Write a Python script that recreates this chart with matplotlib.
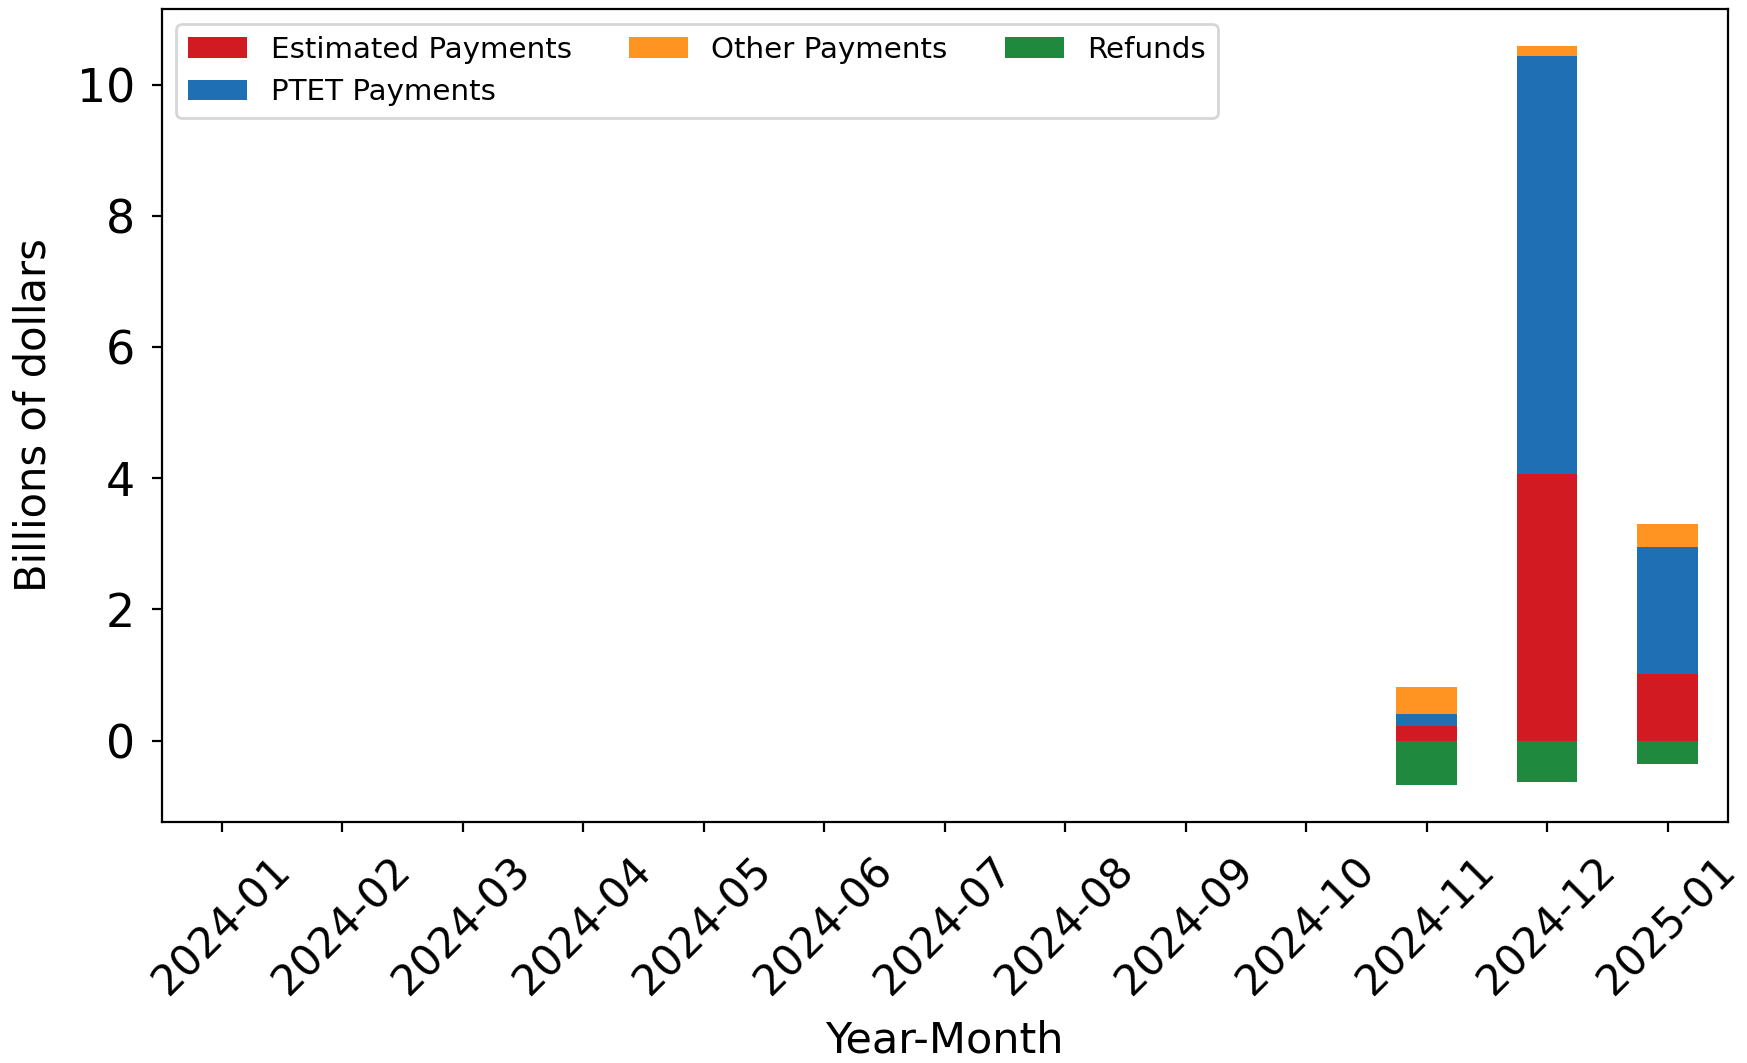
import numpy as np
import matplotlib
matplotlib.use("Agg")
import matplotlib.pyplot as plt

# Monthly values, billions of dollars
months = ["2024-01", "2024-02", "2024-03", "2024-04", "2024-05", "2024-06",
          "2024-07", "2024-08", "2024-09", "2024-10", "2024-11", "2024-12", "2025-01"]
estimated = [0, 0, 0, 0, 0, 0, 0, 0, 0, 0, 0.22, 4.07, 1.01]
ptet = [0, 0, 0, 0, 0, 0, 0, 0, 0, 0, 0.19, 6.38, 1.95]
other = [0, 0, 0, 0, 0, 0, 0, 0, 0, 0, 0.41, 0.15, 0.34]
refunds = [0, 0, 0, 0, 0, 0, 0, 0, 0, 0, -0.68, -0.64, -0.36]

est = np.array(estimated)
pt = np.array(ptet)
x = np.arange(len(months))
width = 0.5

fig = plt.figure(figsize=(8.735, 5.315), dpi=200)
ax = fig.add_axes([0.0925, 0.2267, 0.8965, 0.7648])

ax.bar(x, est, width, color="#d11a22", label="Estimated Payments")
ax.bar(x, pt, width, bottom=est, color="#1f6fb5", label="PTET Payments")
ax.bar(x, other, width, bottom=est + pt, color="#ff9422", label="Other Payments")
ax.bar(x, refunds, width, color="#1f8a3e", label="Refunds")

ax.set_xlim(-0.5, len(months) - 0.5)
ax.set_xticks(x)
ax.set_xticklabels(months, rotation=45, ha="center", fontsize=15.2)
ax.tick_params(axis="x", pad=6)
ax.tick_params(axis="y", labelsize=16.5, pad=6)
ax.set_yticks([0, 2, 4, 6, 8, 10])
ax.set_xlabel("Year-Month", fontsize=15.5, labelpad=6)
ax.set_ylabel("Billions of dollars", fontsize=15, labelpad=8)
ax.legend(ncol=3, loc="upper left", fontsize=10.6, columnspacing=1.95)

fig.savefig("out.png", dpi=200)
